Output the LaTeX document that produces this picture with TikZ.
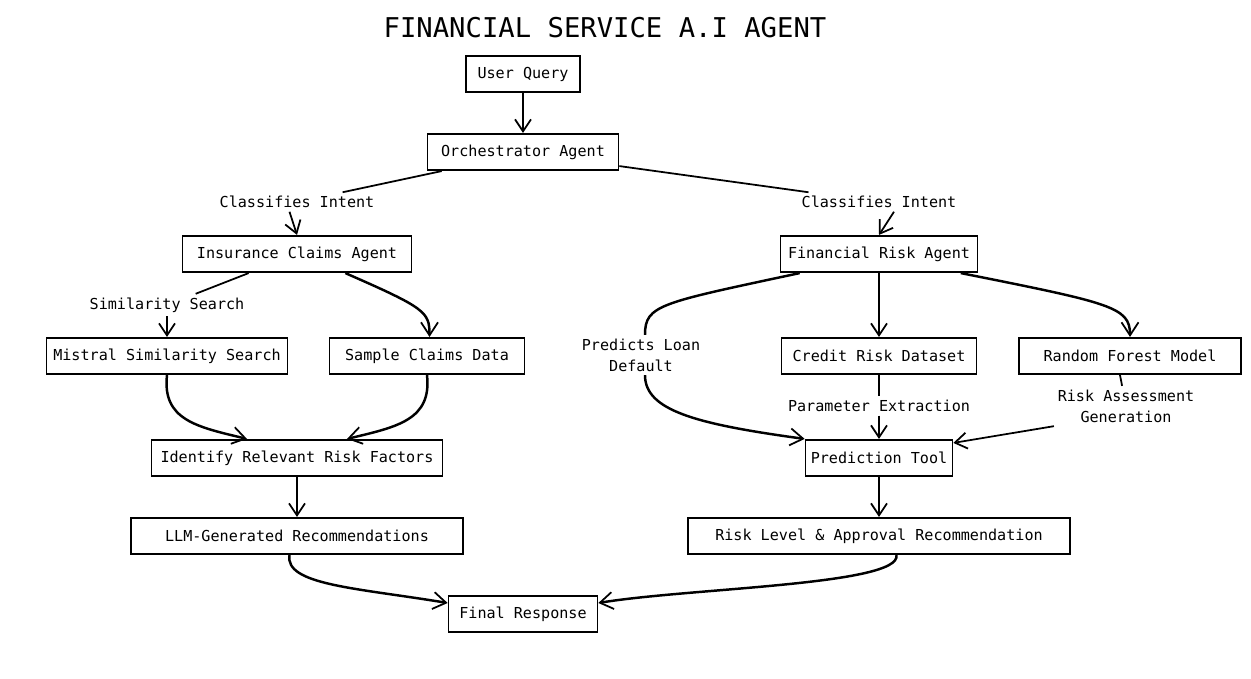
\documentclass[tikz,border=0pt]{standalone}
\usepackage{fontspec}
\setmonofont{DejaVu Sans Mono}
\usepackage{tikz}
\usetikzlibrary{positioning,arrows.meta}
\newcommand{\agtfont}{\ttfamily\fontsize{8.6}{11.9}\selectfont}

\begin{document}
\begin{tikzpicture}[x=0.02cm, y=-0.02cm,
  box/.style={draw, line width=0.95pt, minimum height=0.73cm, inner sep=2pt, font=\agtfont},
  lbl/.style={align=center, inner sep=2pt, font=\agtfont},
  ln/.style={line width=1pt},
  arr/.style={line width=1pt, -{Straight Barb[length=2.4mm, width=3.2mm]}},
  curv/.style={line width=1.4pt, -{Straight Barb[length=2.6mm, width=3.4mm, line width=1pt]}}]
\useasboundingbox (0,0) rectangle (1251,679);

\node[font=\ttfamily\fontsize{15.5}{18}\selectfont] (title) at (605,28) {FINANCIAL SERVICE A.I AGENT};

% top
\node[box, minimum width=2.28cm] (user) at (523,74) {User Query};
\node[box, minimum width=3.82cm] (orch) at (523,152) {Orchestrator Agent};
\node[lbl] (ciL) at (297,202) {Classifies Intent};
\node[lbl] (ciR) at (879,202) {Classifies Intent};
\node[box, minimum width=4.58cm] (ins) at (297,254) {Insurance Claims Agent};
\node[box, minimum width=3.94cm] (frisk) at (879,254) {Financial Risk Agent};

% insurance side
\node[lbl] (ss) at (167,305) {Similarity Search};
\node[box, minimum width=4.82cm] (mis) at (167,356) {Mistral Similarity Search};
\node[box, minimum width=3.90cm] (smp) at (427,356) {Sample Claims Data};
\node[box, minimum width=5.82cm] (idf) at (297,458) {Identify Relevant Risk Factors};
\node[box, minimum width=6.64cm] (llm) at (297,536) {LLM-Generated Recommendations};

% risk side
\node[lbl] (pld) at (641,355) {Predicts Loan\\Default};
\node[box, minimum width=3.90cm] (crd) at (879,356) {Credit Risk Dataset};
\node[box, minimum width=4.44cm] (rfm) at (1130,356) {Random Forest Model};
\node[lbl] (pex) at (879,406) {Parameter Extraction};
\node[lbl] (rag) at (1126,406) {Risk Assessment\\Generation};
\node[box, minimum width=2.94cm] (pred) at (879,458) {Prediction Tool};
\node[box, minimum width=7.64cm] (rlv) at (879,536) {Risk Level \& Approval Recommendation};

\node[box, minimum width=2.98cm] (resp) at (523,614) {Final Response};

% connectors
\draw[arr] (user) -- (orch);
\draw[ln] ([xshift=0.3cm]orch.south west) -- (ciL);
\draw[arr] ([xshift=-0.15cm]ciL.south) -- (ins.north);
\draw[ln] ([yshift=0.1cm]orch.south east) -- (ciR);
\draw[arr] ([xshift=0.3cm]ciR.south) -- (frisk.north);

\draw[ln] ([xshift=1.34cm]ins.south west) -- (ss);
\draw[arr] (ss) -- (mis);
\draw[curv] ([xshift=-1.34cm]ins.south east) .. controls +(80,35) and +(0,-25) .. ([xshift=0.05cm]smp.north);
\draw[curv] (mis.south) .. controls +(-5,45) and +(-50,-12) .. ([xshift=-1cm]idf.north);
\draw[curv] (smp.south) .. controls +(5,45) and +(50,-12) .. ([xshift=1cm]idf.north);
\draw[arr] (idf) -- (llm);
\draw[curv] ([xshift=-0.15cm]llm.south) .. controls +(-5,30) and +(-90,-15) .. ([yshift=0.22cm]resp.west);

\draw[line width=1.4pt] ([xshift=0.4cm]frisk.south west) .. controls +(-140,30) and +(0,-30) .. ([xshift=0.08cm]pld.north);
\draw[curv] ([xshift=0.08cm]pld.south) .. controls +(0,35) and +(-110,-15) .. (pred.north west);
\draw[arr] (frisk) -- (crd);
\draw[curv] ([xshift=-0.35cm]frisk.south east) .. controls +(150,30) and +(0,-30) .. (rfm.north);
\draw[ln] (crd) -- (pex);
\draw[arr] (pex) -- (pred);
\draw[ln] ([xshift=-0.2cm]rfm.south) -- (rag);
\draw[arr] (rag.south west) -- ([yshift=-0.08cm]pred.north east);
\draw[arr] (pred) -- (rlv);
\draw[curv] ([xshift=0.35cm]rlv.south) .. controls +(5,30) and +(90,-15) .. ([yshift=0.22cm]resp.east);
\end{tikzpicture}
\end{document}
